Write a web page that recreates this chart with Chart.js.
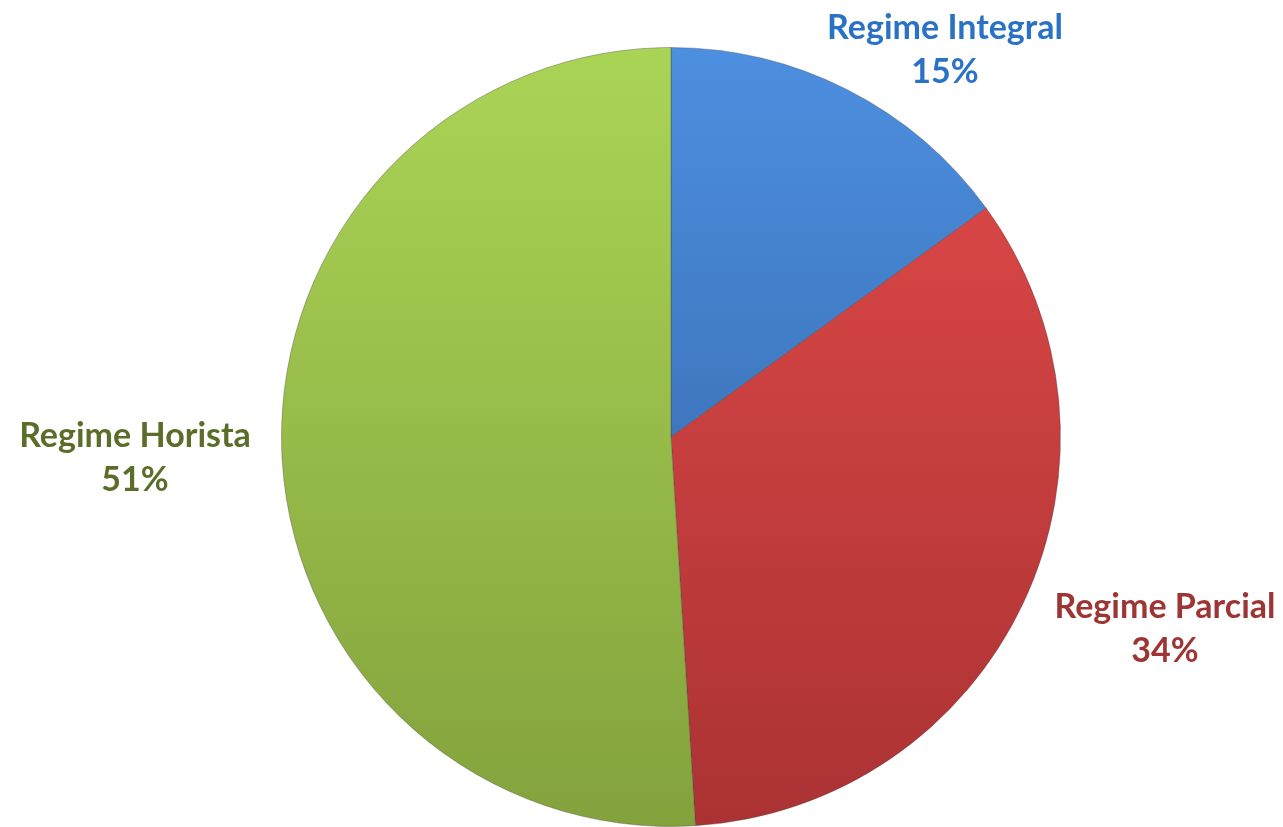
<!DOCTYPE html>
<html>
<head>
<meta charset="utf-8">
<script src="https://cdn.jsdelivr.net/npm/chart.js@4"></script>
<style>
html,body{margin:0;padding:0;background:#fff;}
#wrap{width:1283px;height:827px;position:relative;}
</style>
</head>
<body>
<div id="wrap"><canvas id="c" width="1283" height="827"></canvas></div>
<script>
const categories = ["Regime Integral", "Regime Parcial", "Regime Horista"];
const percentages = [15, 34, 51];
const percentLabels = ["15%", "34%", "51%"];

const topColors = ["#4d8fe0", "#e34b4a", "#aad456"];
const bottomColors = ["#2f5e9c", "#ab3233", "#83a23c"];
const labelColors = ["#2a72c4", "#9e3535", "#5a6e2a"];
// label centre positions (px on canvas) for the two-line labels
const labelPos = [[945, 28], [1165, 607], [135, 436]];

function grad(ctx, i) {
  const chart = ctx.chart;
  const a = chart.chartArea;
  if (!a) return topColors[i];
  const g = chart.ctx.createLinearGradient(0, a.top, 0, a.bottom);
  g.addColorStop(0, topColors[i]);
  g.addColorStop(1, bottomColors[i]);
  return g;
}

const labelPlugin = {
  id: 'outLabels',
  afterDraw(chart) {
    const c = chart.ctx;
    c.save();
    c.textAlign = 'center';
    c.textBaseline = 'middle';
    c.font = 'bold 34px Lato, "Open Sans", sans-serif';
    categories.forEach((name, i) => {
      const [x, y] = labelPos[i];
      c.fillStyle = labelColors[i];
      c.fillText(name, x, y);
      c.fillText(percentLabels[i], x, y + 44);
    });
    c.restore();
  }
};

new Chart(document.getElementById('c'), {
  type: 'pie',
  data: {
    labels: categories,
    datasets: [{
      data: percentages,
      backgroundColor: (ctx) => grad(ctx, ctx.dataIndex),
      borderColor: "rgba(60,60,60,0.35)",
      borderWidth: 1
    }]
  },
  options: {
    responsive: false,
    animation: false,
    layout: { padding: { left: 281, right: 222, top: 47, bottom: 0 } },
    plugins: {
      legend: { display: false },
      tooltip: { enabled: false },
      title: { display: false }
    }
  },
  plugins: [labelPlugin]
});
</script>
</body>
</html>
